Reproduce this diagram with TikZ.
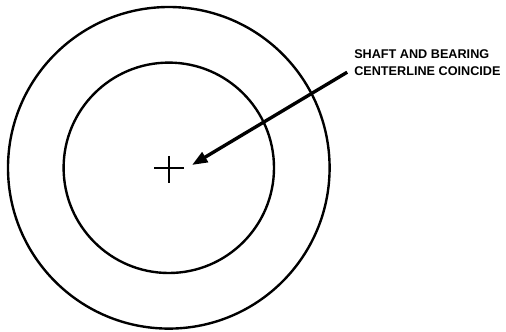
\documentclass[tikz,border=0pt]{standalone}
\usepackage{fontspec}
\setmainfont{Liberation Sans}
\usetikzlibrary{arrows.meta,positioning,calc}

\tikzset{
  ring/.style={line width=1.7pt},
  pointer/.style={line width=2.4pt,-{Triangle[length=11pt,width=8pt]}},
  note/.style={align=left,font=\bfseries\fontsize{9}{12}\selectfont,inner sep=0pt}
}

\begin{document}
\begin{tikzpicture}

\useasboundingbox (0,0) rectangle (12.65,8.275);

\coordinate (O) at (4.22,4.08);
\coordinate (tip) at (4.8,4.15);
\coordinate (tail) at (8.68,6.47);

\draw[ring] (O) circle (4.02);
\draw[ring] (O) circle (2.63);

% centre mark
\draw[line width=1.1pt] ($(O)+(-.37,0)$) -- ($(O)+(.37,0)$);
\draw[line width=1.1pt] ($(O)+(0,.3)$) -- ($(O)+(0,-.37)$);

\node[note, anchor=west] (note) at (8.85,6.7) {SHAFT AND BEARING\\CENTERLINE COINCIDE};

\draw[pointer] (tail) -- (tip);
\end{tikzpicture}
\end{document}
